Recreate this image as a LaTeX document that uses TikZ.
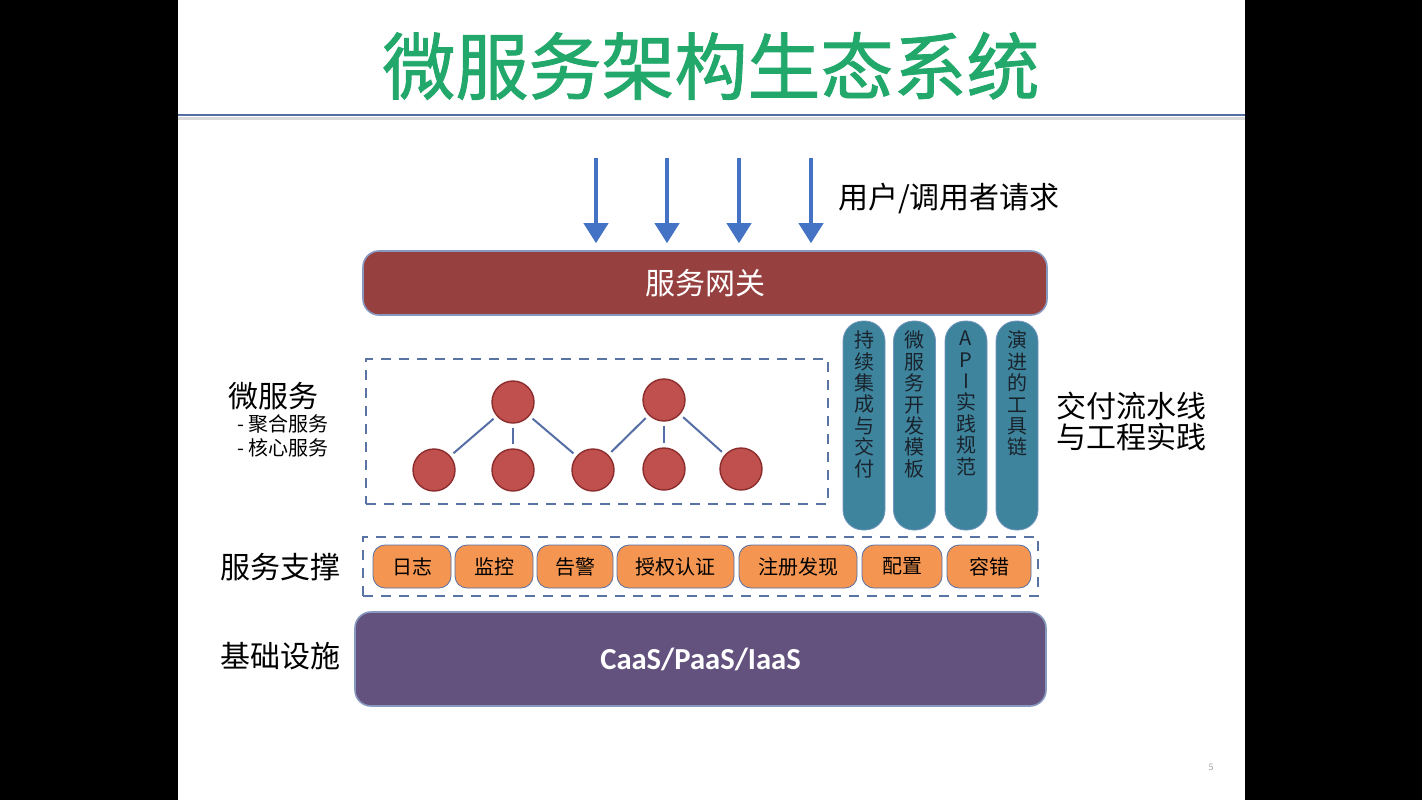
\documentclass[tikz,border=0pt]{standalone}
\usepackage{fontspec}
\setmainfont{Noto Sans CJK SC}
\newfontfamily\titlefont[FakeBold=1.2]{Noto Sans CJK SC}
\newfontfamily\latinbold{Carlito}
\usetikzlibrary{arrows.meta, positioning, shapes.geometric, calc}

\definecolor{titlegreen}{RGB}{34,168,106}
\definecolor{gwred}{RGB}{150,64,64}
\definecolor{nodered}{RGB}{192,80,77}
\definecolor{nodeedge}{RGB}{140,45,45}
\definecolor{linkblue}{RGB}{85,110,165}
\definecolor{arrowblue}{RGB}{68,114,196}
\definecolor{pillteal}{RGB}{62,132,156}
\definecolor{pilledge}{RGB}{115,150,190}
\definecolor{supportorange}{RGB}{244,150,82}
\definecolor{infrapurple}{RGB}{100,82,126}
\definecolor{dashblue}{RGB}{90,115,165}
\definecolor{coltext}{RGB}{25,35,45}

\tikzset{
  layerbar/.style={draw=linkblue!70, line width=0.8pt, rounded corners=8pt, text=white},
  svc/.style={circle, draw=nodeedge, line width=0.7pt, fill=nodered, minimum size=21pt, inner sep=0pt},
  toolcol/.style={draw=pilledge, fill=pillteal, rounded corners=10pt, minimum width=21pt, minimum height=104.5pt},
  supportbox/.style={draw=linkblue, fill=supportorange, rounded corners=6pt, minimum height=21.5pt, inner sep=0pt, font=\fontsize{10}{12}\selectfont},
  dashframe/.style={draw=dashblue, dash pattern=on 5pt off 4pt, line width=0.7pt},
  sidelabel/.style={font=\fontsize{15}{18}\selectfont},
  link/.style={linkblue, line width=1pt, shorten <=2pt, shorten >=2pt}
}

\begin{document}
\begin{tikzpicture}[x=0.5pt, y=-0.5pt]
  % Slide area
  \useasboundingbox (0,0) rectangle (1422,800);
  \fill[black] (0,0) rectangle (1422,800);
  \fill[white] (178,0) rectangle (1245,800);

  % Title
  \node[text=titlegreen, font=\titlefont\fontsize{36.5}{42}\selectfont] (title) at (711,66) {微服务架构生态系统};
  \draw[black!15, line width=1.5pt] (178,118) -- (1245,118);
  \draw[linkblue, line width=1pt] (178,115) -- (1245,115);

  % Gateway and requests
  \node[layerbar, fill=gwred, minimum width=342pt, minimum height=32pt, font=\fontsize{15}{18}\selectfont] (gw) at (705,283) {服务网关};
  \foreach \x [count=\i] in {596,667,739,811} {
    \coordinate (req\i) at (\x,158);
    \draw[arrowblue, line width=2pt, shorten >=3.5pt, -{Triangle[width=12pt,length=10pt]}] (req\i) -- (req\i |- gw.north);
  }
  \node[anchor=west, font=\fontsize{15}{18}\selectfont] (reqlabel) at (831,198) {用户/调用者请求};

  % Microservices
  \node[dashframe, minimum width=231pt, minimum height=72.5pt] (msframe) at (597,431.5) {};
  \node[svc] (agg1) at (513,402) {};
  \node[svc] (agg2) at (664,400) {};
  \foreach \x/\y [count=\i] in {434/470, 513/470, 593/470, 664/469, 741/469}
    \node[svc] (core\i) at (\x,\y) {};
  \foreach \a/\b in {agg1/core1, agg1/core2, agg1/core3, agg2/core3, agg2/core4, agg2/core5}
    \draw[link] (\a) -- (\b);

  \node[sidelabel] (mslabel) at (273,396) {微服务};
  \node[anchor=west, font=\fontsize{10}{12}\selectfont] (agglabel) at (230,424) {- 聚合服务};
  \node[anchor=west, font=\fontsize{10}{12}\selectfont] (corelabel) at (230,448) {- 核心服务};

  % Delivery toolchain
  \foreach \x/\txt [count=\i] in {864/{持\\续\\集\\成\\与\\交\\付}, 914.5/{微\\服\\务\\开\\发\\模\\板}, 966/{A\\P\\I\\实\\践\\规\\范}, 1017/{演\\进\\的\\工\\具\\链}} {
    \node[toolcol] (tool\i) at (\x,425.5) {};
    \node[anchor=north, inner sep=0pt, align=center, text=coltext, font=\fontsize{10}{10.7}\selectfont] (tooltxt\i) at ($(tool\i.north)+(0,10)$) {\txt};
  }
  \node[sidelabel, align=left, font=\fontsize{15}{15.5}\selectfont] (pipeline) at (1131,421) {交付流水线\\与工程实践};

  % Service support
  \node[dashframe, minimum width=337.5pt, minimum height=29.5pt] (supframe) at (700.5,566.5) {};
  \foreach \x/\w/\txt [count=\i] in {412/78/日志, 494/78/监控, 575/76/告警, 675.5/117/授权认证, 798/118/注册发现, 902/80/配置, 989/84/容错}
    \node[supportbox, minimum width=\w*0.5pt] (sup\i) at (\x,566.5) {\txt};
  \node[sidelabel] (suplabel) at (280,567) {服务支撑};

  % Infrastructure
  \node[layerbar, fill=infrapurple, minimum width=345.5pt, minimum height=47pt, font=\latinbold\bfseries\fontsize{15.3}{18}\selectfont] (infra) at (700.5,659) {CaaS/PaaS/IaaS};
  \node[sidelabel] (infralabel) at (280,656) {基础设施};

  \node[text=black!35, font=\fontsize{4.5}{5}\selectfont] (pagenum) at (1211,767) {5};
\end{tikzpicture}
\end{document}
